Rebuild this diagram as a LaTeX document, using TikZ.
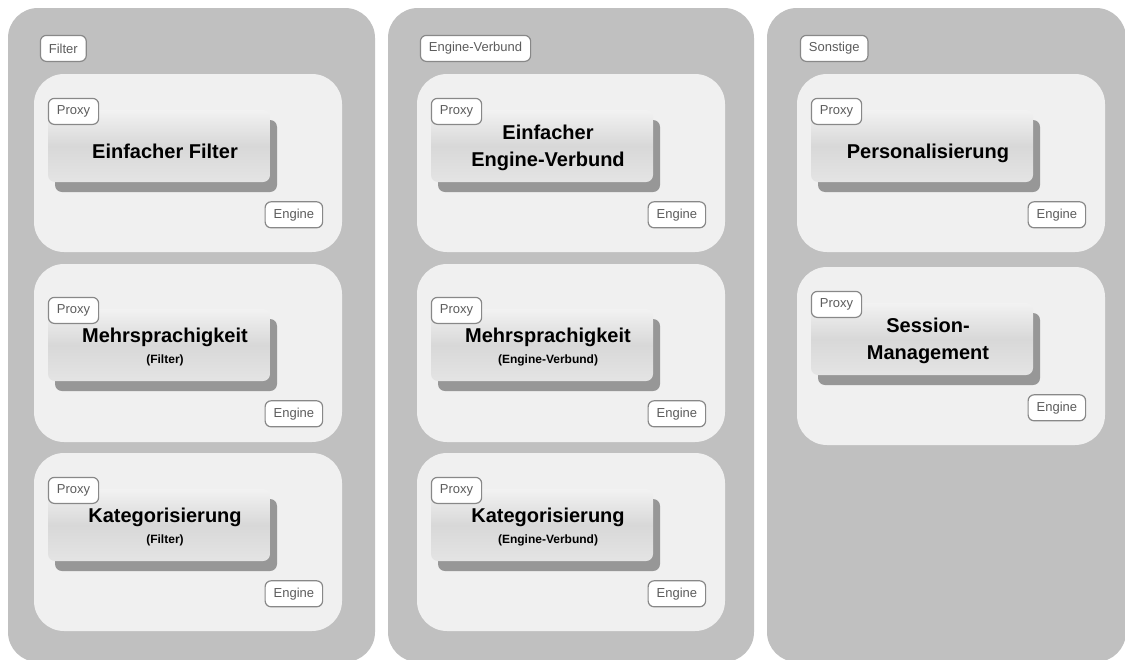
\documentclass[tikz,border=0pt]{standalone}
\usepackage{fontspec}
\setmainfont{Liberation Sans}
\usetikzlibrary{positioning}
\usetikzlibrary{shadows}

\definecolor{panelgray}{HTML}{C0C0C0}
\definecolor{groupgray}{HTML}{F0F0F0}
\definecolor{shadowgray}{HTML}{979797}
\definecolor{boxtop}{HTML}{F2F2F2}
\definecolor{boxmiddle}{HTML}{D8D8D8}
\definecolor{boxbottom}{HTML}{E4E4E4}
\definecolor{tagline}{HTML}{888888}
\definecolor{tagtext}{HTML}{5C5C5C}

\newcommand\tagsize{\fontsize{13}{15}\selectfont}
\newcommand\headsize{\fontsize{20}{27}\selectfont\bfseries}
\newcommand\subsize{\fontsize{12}{14}\selectfont\bfseries}

\begin{document}
\begin{tikzpicture}[x=1pt,y=-1pt,
    panel/.style={fill=panelgray,rounded corners=30pt,minimum height=654pt,inner sep=0pt},
    group/.style={fill=groupgray,rounded corners=30pt,minimum width=308pt,minimum height=178pt,inner sep=0pt},
    pattern/.style={rounded corners=7pt,minimum width=222pt,minimum height=72pt,inner sep=0pt,
        top color=boxtop,bottom color=boxbottom,middle color=boxmiddle,
        drop shadow={shadow xshift=7pt,shadow yshift=-10pt,fill=shadowgray,opacity=1}},
    patname/.style={font=\headsize,align=center},
    tag/.style={draw=tagline,line width=1.2pt,fill=white,rounded corners=6pt,text=tagtext,
        font=\tagsize,minimum height=26pt,inner xsep=8.5pt,inner ysep=0pt}]

            % \draw [help lines] (0,0) grid (1125,659);
            \fill[white,use as bounding box] (0,0) rectangle (1125,659);

            % columns
            \path   (191.5,335) node (p1) [panel,minimum width=367pt] {}
                    (571,335)   node (p2) [panel,minimum width=366pt] {}
                    (946.5,335) node (p3) [panel,minimum width=359pt] {};

            \node (c1) [tag,below right=27pt and 32pt of p1.north west] {Filter};
            \node (c2) [tag,below right=27pt and 32pt of p2.north west] {Engine-Verbund};
            \node (c3) [tag,below right=27pt and 33pt of p3.north west] {Sonstige};

            % groups
            \path   (188,163) node (g11) [group] {}
                    (188,353) node (g12) [group] {}
                    (188,542) node (g13) [group] {}

                    (571,163) node (g21) [group] {}
                    (571,353) node (g22) [group] {}
                    (571,542) node (g23) [group] {}

                    (951,163) node (g31) [group] {}
                    (951,356) node (g32) [group] {};

            % patterns
            \node (b11) [pattern,below right=36pt and 14pt of g11.north west] {};
            \node (b12) [pattern,below right=45pt and 14pt of g12.north west] {};
            \node (b13) [pattern,below right=36pt and 14pt of g13.north west] {};
            \node (b21) [pattern,below right=36pt and 14pt of g21.north west] {};
            \node (b22) [pattern,below right=45pt and 14pt of g22.north west] {};
            \node (b23) [pattern,below right=36pt and 14pt of g23.north west] {};
            \node (b31) [pattern,below right=36pt and 14pt of g31.north west] {};
            \node (b32) [pattern,below right=36pt and 14pt of g32.north west] {};

            \node (t11) [patname,anchor=base,xshift=6pt,yshift=-12pt] at (b11.center) {Einfacher Filter};
            \node (t12) [patname,xshift=6pt,yshift=-2pt] at (b12.center) {Mehrsprachigkeit\\[-6pt]{\subsize(Filter)}};
            \node (t13) [patname,xshift=6pt,yshift=-2pt] at (b13.center) {Kategorisierung\\[-6pt]{\subsize(Filter)}};
            \node (t21) [patname,xshift=6pt,yshift=-2pt] at (b21.center) {Einfacher\\Engine-Verbund};
            \node (t22) [patname,xshift=6pt,yshift=-2pt] at (b22.center) {Mehrsprachigkeit\\[-6pt]{\subsize(Engine-Verbund)}};
            \node (t23) [patname,xshift=6pt,yshift=-2pt] at (b23.center) {Kategorisierung\\[-6pt]{\subsize(Engine-Verbund)}};
            \node (t31) [patname,anchor=base,xshift=6pt,yshift=-12pt] at (b31.center) {Personalisierung};
            \node (t32) [patname,xshift=6pt,yshift=-2pt] at (b32.center) {Session-\\Management};

            % proxy and engine
            \node (x11) [tag,anchor=north west] at ([yshift=12pt]b11.north west) {Proxy};
            \node (x12) [tag,anchor=north west] at ([yshift=12pt]b12.north west) {Proxy};
            \node (x13) [tag,anchor=north west] at ([yshift=12pt]b13.north west) {Proxy};
            \node (x21) [tag,anchor=north west] at ([yshift=12pt]b21.north west) {Proxy};
            \node (x22) [tag,anchor=north west] at ([yshift=12pt]b22.north west) {Proxy};
            \node (x23) [tag,anchor=north west] at ([yshift=12pt]b23.north west) {Proxy};
            \node (x31) [tag,anchor=north west] at ([yshift=12pt]b31.north west) {Proxy};
            \node (x32) [tag,anchor=north west] at ([yshift=12pt]b32.north west) {Proxy};

            \node (e11) [tag,anchor=north east] at ([xshift=53pt,yshift=-19pt]b11.south east) {Engine};
            \node (e12) [tag,anchor=north east] at ([xshift=53pt,yshift=-19pt]b12.south east) {Engine};
            \node (e13) [tag,anchor=north east] at ([xshift=53pt,yshift=-19pt]b13.south east) {Engine};
            \node (e21) [tag,anchor=north east] at ([xshift=53pt,yshift=-19pt]b21.south east) {Engine};
            \node (e22) [tag,anchor=north east] at ([xshift=53pt,yshift=-19pt]b22.south east) {Engine};
            \node (e23) [tag,anchor=north east] at ([xshift=53pt,yshift=-19pt]b23.south east) {Engine};
            \node (e31) [tag,anchor=north east] at ([xshift=53pt,yshift=-19pt]b31.south east) {Engine};
            \node (e32) [tag,anchor=north east] at ([xshift=53pt,yshift=-19pt]b32.south east) {Engine};
\end{tikzpicture}
\end{document}
